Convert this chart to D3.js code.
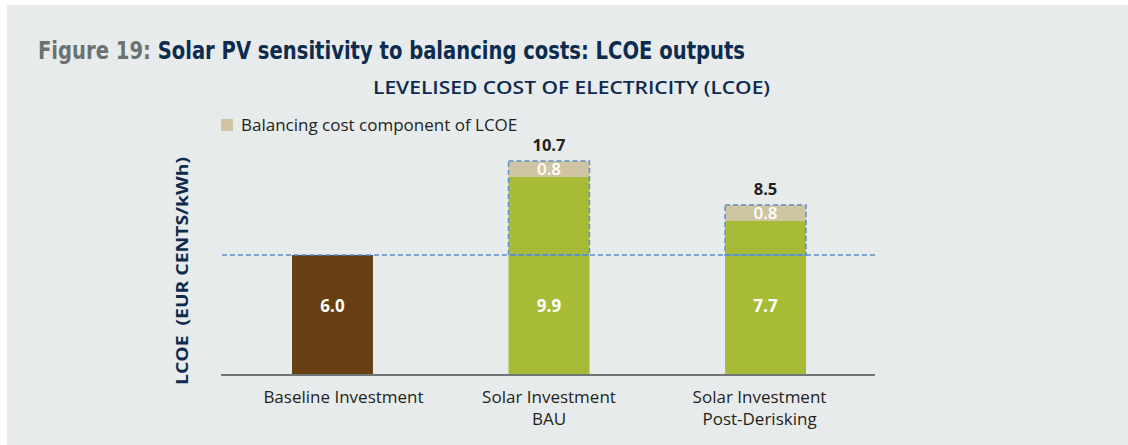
<!DOCTYPE html>
<html>
<head>
<meta charset="utf-8">
<script src="https://cdn.jsdelivr.net/npm/d3@7"></script>
<style>
  html, body { margin: 0; padding: 0; background: #ffffff; }
  svg { display: block; }
</style>
</head>
<body>
<div id="chart"></div>
<script>
// data
var categories = ["Baseline Investment", "Solar Investment\nBAU", "Solar Investment\nPost-Derisking"];
var baseValues = [6.0, 9.9, 7.7];
var balancingValues = [0, 0.8, 0.8];
var baseColors = ["#673f12", "#a7bb37", "#a7bb37"];
var referenceValue = 6.0;
var legendLabel = "Balancing cost component of LCOE";

// category labels are not exactly centred under the bars in the original
var labelNudge = [11, 0, -6];

var width = 1128, height = 445;

var svg = d3.select("#chart")
  .append("svg")
    .attr("width", width)
    .attr("height", height);

// grey panel
svg.append("rect")
  .attr("x", 7).attr("y", 5)
  .attr("width", width - 7).attr("height", height - 5)
  .attr("fill", "#e8ebec");

// title
var title = svg.append("text")
  .attr("x", 38).attr("y", 59)
  .attr("textLength", 707)
  .attr("lengthAdjust", "spacingAndGlyphs")
  .style("font-family", "'Liberation Sans Narrow', 'DejaVu Sans Condensed', 'Open Sans', sans-serif")
  .style("font-weight", "bold")
  .style("font-size", "24px");
title.append("tspan").attr("fill", "#6b7272").text("Figure 19: ");
title.append("tspan").attr("fill", "#0d2b4e").text("Solar PV sensitivity to balancing costs: LCOE outputs");

// subtitle
svg.append("text")
  .attr("x", 373).attr("y", 94)
  .attr("textLength", 397)
  .attr("lengthAdjust", "spacingAndGlyphs")
  .attr("fill", "#0d2b4e")
  .style("font-family", "'Open Sans', sans-serif")
  .style("font-weight", "600")
  .style("font-size", "18px")
  .text("LEVELISED COST OF ELECTRICITY (LCOE)");

// scales
var x = d3.scaleBand()
  .domain(categories)
  .range([224, 874])
  .paddingInner(0.626)
  .paddingOuter(0.314);

var y = d3.scaleLinear()
  .domain([0, 12])
  .range([375, 135]);

// y-axis title
svg.append("text")
  .attr("transform", "translate(188," + 271 + ") rotate(-90)")
  .attr("text-anchor", "middle")
  .attr("textLength", 228)
  .attr("lengthAdjust", "spacingAndGlyphs")
  .attr("fill", "#0d2b4e")
  .style("font-family", "'Open Sans', sans-serif")
  .style("font-weight", "bold")
  .style("font-size", "16px")
  .style("white-space", "pre")
  .text("LCOE  (EUR CENTS/kWh)");

// legend
svg.append("rect")
  .attr("x", 221).attr("y", 119)
  .attr("width", 12).attr("height", 12)
  .attr("fill", "#cfc5a2");
svg.append("text")
  .attr("x", 241).attr("y", 131)
  .attr("fill", "#231f20")
  .style("font-family", "'Open Sans', sans-serif")
  .style("font-size", "17px")
  .text(legendLabel);

// base bars
svg.selectAll(".base")
  .data(categories)
  .enter()
  .append("rect")
    .attr("class", "base")
    .attr("x", function(d) { return x(d); })
    .attr("y", function(d, i) { return y(baseValues[i]); })
    .attr("width", x.bandwidth())
    .attr("height", function(d, i) { return y(0) - y(baseValues[i]); })
    .attr("fill", function(d, i) { return baseColors[i]; });

// balancing cost segment
svg.selectAll(".bal")
  .data(categories.filter(function(d, i) { return balancingValues[i] > 0; }))
  .enter()
  .append("rect")
    .attr("class", "bal")
    .attr("x", function(d) { return x(d); })
    .attr("y", function(d) { var i = categories.indexOf(d); return y(baseValues[i] + balancingValues[i]); })
    .attr("width", x.bandwidth())
    .attr("height", function(d) { var i = categories.indexOf(d); return y(0) - y(balancingValues[i]); })
    .attr("fill", "#cfc5a2");

// axis line
svg.append("line")
  .attr("x1", 221).attr("x2", 875)
  .attr("y1", y(0)).attr("y2", y(0))
  .attr("stroke", "#6f7776")
  .attr("stroke-width", 2.2);

// reference dashed line
svg.append("line")
  .attr("x1", 222).attr("x2", 875)
  .attr("y1", y(referenceValue)).attr("y2", y(referenceValue))
  .attr("stroke", "#5a8fd0")
  .attr("stroke-width", 1.5)
  .attr("stroke-dasharray", "5,3");

// dashed boxes around increase over reference
svg.selectAll(".box")
  .data(categories.filter(function(d, i) { return balancingValues[i] > 0; }))
  .enter()
  .append("rect")
    .attr("class", "box")
    .attr("x", function(d) { return x(d); })
    .attr("y", function(d) { var i = categories.indexOf(d); return y(baseValues[i] + balancingValues[i]); })
    .attr("width", x.bandwidth())
    .attr("height", function(d) { var i = categories.indexOf(d); return y(referenceValue) - y(baseValues[i] + balancingValues[i]); })
    .attr("fill", "none")
    .attr("stroke", "#5a8fd0")
    .attr("stroke-width", 1.5)
    .attr("stroke-dasharray", "5,3");

// value labels inside base bars
svg.selectAll(".baseLabel")
  .data(categories)
  .enter()
  .append("text")
    .attr("x", function(d) { return x(d) + x.bandwidth() / 2; })
    .attr("y", 312)
    .attr("text-anchor", "middle")
    .attr("fill", "#ffffff")
    .style("font-family", "'Open Sans', sans-serif")
    .style("font-weight", "bold")
    .style("font-size", "17px")
    .text(function(d, i) { return baseValues[i].toFixed(1); });

// balancing labels
svg.selectAll(".balLabel")
  .data(categories.filter(function(d, i) { return balancingValues[i] > 0; }))
  .enter()
  .append("text")
    .attr("x", function(d) { return x(d) + x.bandwidth() / 2; })
    .attr("y", function(d) { var i = categories.indexOf(d); return y(baseValues[i] + balancingValues[i] / 2) + 6; })
    .attr("text-anchor", "middle")
    .attr("fill", "#ffffff")
    .style("font-family", "'Open Sans', sans-serif")
    .style("font-weight", "600")
    .style("font-size", "17px")
    .text(function(d) { var i = categories.indexOf(d); return balancingValues[i].toFixed(1); });

// total labels
svg.selectAll(".totLabel")
  .data(categories.filter(function(d, i) { return balancingValues[i] > 0; }))
  .enter()
  .append("text")
    .attr("x", function(d) { return x(d) + x.bandwidth() / 2; })
    .attr("y", function(d) { var i = categories.indexOf(d); return y(baseValues[i] + balancingValues[i]) - 10; })
    .attr("text-anchor", "middle")
    .attr("fill", "#231f20")
    .style("font-family", "'Open Sans', sans-serif")
    .style("font-weight", "bold")
    .style("font-size", "16.5px")
    .text(function(d) { var i = categories.indexOf(d); return (baseValues[i] + balancingValues[i]).toFixed(1); });

// category labels
svg.selectAll(".catLabel")
  .data(categories)
  .enter()
  .append("text")
    .attr("class", "catLabel")
    .attr("text-anchor", "middle")
    .attr("fill", "#231f20")
    .style("font-family", "'Open Sans', sans-serif")
    .style("font-size", "17px")
    .each(function(d, i) {
      var t = d3.select(this);
      d.split("\n").forEach(function(line, k) {
        t.append("tspan")
          .attr("x", x(d) + x.bandwidth() / 2 + labelNudge[i])
          .attr("y", 403 + k * 22)
          .text(line);
      });
    });
</script>
</body>
</html>
